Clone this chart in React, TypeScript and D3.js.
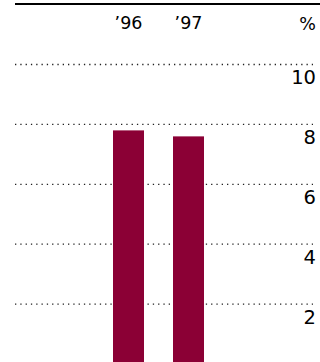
import React from "react";
import * as d3 from "d3";

const categories = ["\u201996", "\u201997"];
const values = [7.8, 7.6];
const tickValues = [2, 4, 6, 8, 10];
const unitLabel = "%";

const W = 320;
const H = 362;

export default function App() {
  const y = d3.scaleLinear().domain([0, 10]).range([364, 64.5]);
  const x = d3
    .scaleBand()
    .domain(categories)
    .range([98.5, 218.5])
    .paddingInner(29 / 60)
    .paddingOuter(29 / 120);
  const font = "'DejaVu Sans', 'Open Sans', sans-serif";
  return (
    <svg
      width={W}
      height={H}
      style={{ position: "absolute", left: 0, top: 0, display: "block" }}
    >
      <rect width={W} height={H} fill="#fff" />
      <line x1={15} x2={320} y1={4} y2={4} stroke="#000" strokeWidth={2} />
      {tickValues.map((t) => (
        <g key={t}>
          <line
            x1={15}
            x2={313}
            y1={y(t)}
            y2={y(t)}
            stroke="#222"
            strokeWidth={1.3}
            strokeDasharray="1.3,4"
          />
          <text
            x={316}
            y={y(t) + 19.5}
            textAnchor="end"
            fontFamily={font}
            fontSize={19.5}
            fill="#000"
          >
            {t}
          </text>
        </g>
      ))}
      {categories.map((c, i) => (
        <g key={c}>
          <rect
            x={x(c)}
            y={y(values[i])}
            width={x.bandwidth()}
            height={y(0) - y(values[i])}
            fill="#8B0035"
          />
          <text
            x={(x(c) as number) + x.bandwidth() / 2}
            y={29}
            textAnchor="middle"
            fontFamily={font}
            fontSize={17.5}
            fill="#000"
          >
            {c}
          </text>
        </g>
      ))}
      <text
        x={316}
        y={29.5}
        textAnchor="end"
        fontFamily={font}
        fontSize={17.5}
        fill="#000"
      >
        {unitLabel}
      </text>
    </svg>
  );
}
